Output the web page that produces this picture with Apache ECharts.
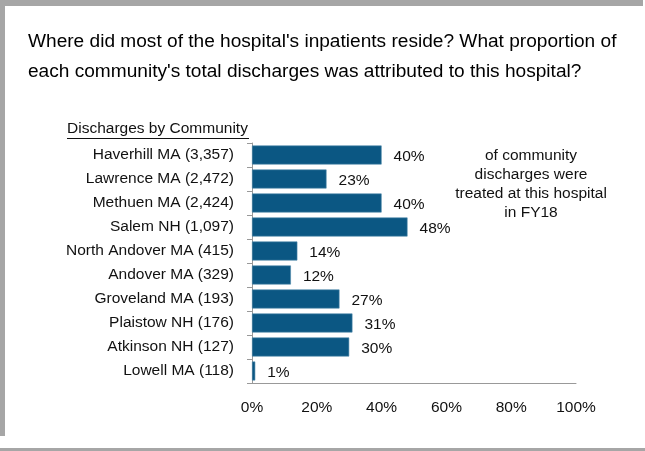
<!DOCTYPE html>
<html>
<head>
<meta charset="utf-8">
<script src="https://cdn.jsdelivr.net/npm/echarts@6/dist/echarts.min.js"></script>
<style>
html,body{margin:0;padding:0;background:#fff;}
#chart{width:645px;height:451px;}
</style>
</head>
<body>
<div id="chart"></div>
<script>
const communities = ["Haverhill MA", "Lawrence MA", "Methuen MA", "Salem NH", "North Andover MA", "Andover MA", "Groveland MA", "Plaistow NH", "Atkinson NH", "Lowell MA"];
const discharges = ["3,357", "2,472", "2,424", "1,097", "415", "329", "193", "176", "127", "118"];
const shares = [40, 23, 40, 48, 14, 12, 27, 31, 30, 1];
const xTicks = [0, 20, 40, 60, 80, 100];

const categories = communities.map((c, i) => c + " (" + discharges[i] + ")");
const FONT = '"Liberation Sans", Arial, sans-serif';
const GRAY = '#a6a6a6';

const chart = echarts.init(document.getElementById('chart'), null, {renderer: 'canvas'});
chart.setOption({
  animation: false,
  backgroundColor: '#fff',
  title: {
    text: "Where did most of the hospital's inpatients reside? What proportion of\neach community's total discharges was attributed to this hospital?",
    left: 23, top: 22,
    textStyle: {fontFamily: FONT, fontSize: 19.1, fontWeight: 'normal', color: '#000', lineHeight: 30}
  },
  grid: {left: 252, right: 69, top: 143, bottom: 68, containLabel: false},
  xAxis: {
    type: 'value', min: xTicks[0], max: xTicks[xTicks.length - 1], interval: 20,
    axisLine: {show: true, lineStyle: {color: '#999', width: 1}},
    axisTick: {show: false},
    splitLine: {show: false},
    axisLabel: {formatter: '{value}%', margin: 17, fontFamily: FONT, fontSize: 15.5, color: '#111'}
  },
  yAxis: {
    type: 'category', data: categories, inverse: true,
    axisLine: {show: true, lineStyle: {color: '#999', width: 1}},
    axisTick: {show: true, length: 5, lineStyle: {color: '#999'}},
    axisLabel: {interval: 0, margin: 18, fontFamily: FONT, fontSize: 15.5, color: '#111'}
  },
  series: [{
    type: 'bar', data: shares, barCategoryGap: '21%',
    itemStyle: {color: '#0b5783', borderColor: '#4d88aa', borderWidth: 0.6},
    label: {show: true, position: 'right', distance: 12, offset: [0, 2], formatter: '{c}%',
      fontFamily: FONT, fontSize: 15.5, color: '#111'}
  }],
  graphic: [
    {type: 'rect', shape: {x: 0, y: 0, width: 643, height: 6}, style: {fill: GRAY}},
    {type: 'rect', shape: {x: 0, y: 0, width: 5, height: 436}, style: {fill: GRAY}},
    {type: 'rect', shape: {x: 0, y: 448, width: 645, height: 3}, style: {fill: GRAY}},
    {type: 'text', left: 67, top: 121, style: {text: 'Discharges by Community', font: '15.5px ' + FONT, fill: '#111'}},
    {type: 'line', shape: {x1: 67, y1: 138.5, x2: 249, y2: 138.5}, style: {stroke: '#111', lineWidth: 1}},
    {type: 'text', x: 531, y: 146, style: {text: 'of community\ndischarges were\ntreated at this hospital\nin FY18',
      font: '15.5px ' + FONT, fill: '#111', align: 'center', lineHeight: 19}}
  ]
});
</script>
</body>
</html>
